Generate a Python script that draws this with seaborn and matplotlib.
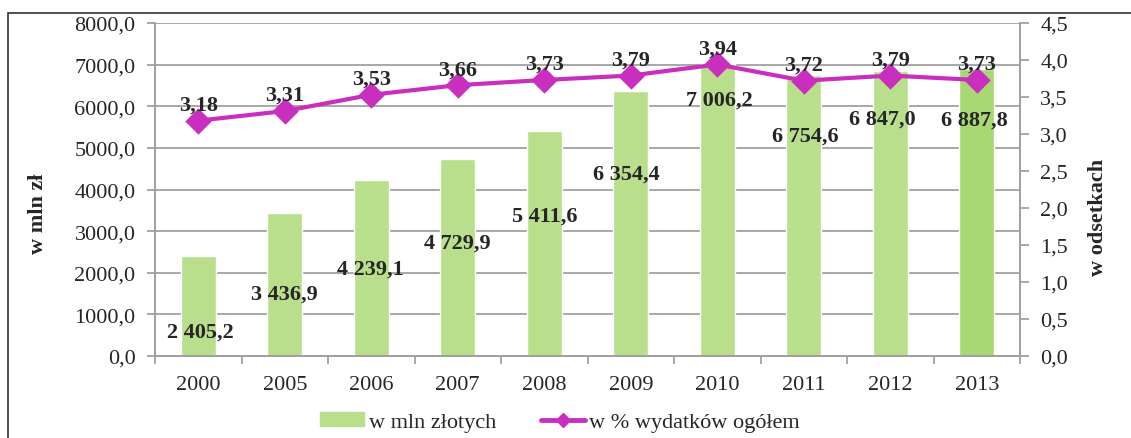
import pandas as pd
import seaborn as sns
import matplotlib.pyplot as plt
from matplotlib.patches import Rectangle, Patch
from matplotlib.lines import Line2D

lata = ["2000", "2005", "2006", "2007", "2008", "2009", "2010", "2011", "2012", "2013"]
mln_zl = [2405.2, 3436.9, 4239.1, 4729.9, 5411.6, 6354.4, 7006.2, 6754.6, 6847.0, 6887.8]
procent = [3.18, 3.31, 3.53, 3.66, 3.73, 3.79, 3.94, 3.72, 3.79, 3.73]

# przesuniecia etykiet slupkow (w pikselach), tak jak w oryginale
przes_x = [2, 0, -1, 0, 0, -4, 2, 2, -8, -2]
przes_y = [-76, -81, -89, -83, -85, -82, -35, -61, -48, -50]

ZIELONY = "#badf8c"
ZIELONY_2013 = "#a8d774"
FIOLET = "#c92fbf"
SZARY = "#a0a0a0"


def fmt(v, dec, tys=True):
    s = f"{v:,.{dec}f}" if tys else f"{v:.{dec}f}"
    return s.replace(",", " ").replace(".", ",")


sns.set_style("white")
plt.rcParams["font.family"] = ["Liberation Serif", "DejaVu Serif"]

df = pd.DataFrame({"rok": lata, "mln": mln_zl, "proc": procent})
kolory = [ZIELONY] * 9 + [ZIELONY_2013]

fig = plt.figure(figsize=(11.31, 4.39), dpi=100)
ax = fig.add_axes([155 / 1131, 1 - 357 / 439, 865 / 1131, 333 / 439])

sns.barplot(data=df, x="rok", y="mln", hue="rok", palette=kolory, legend=False,
            width=0.4, ax=ax, saturation=1)
ax.set_ylim(0, 8000)
ax.set_xlim(-0.5, 9.5)
ax.set_yticks(range(0, 8001, 1000))
ax.set_yticklabels([fmt(v, 1, False) for v in range(0, 8001, 1000)], fontsize=16)
ax.set_xticks(range(10))
ax.set_xticklabels(lata, fontsize=16)
ax.set_xlabel("")
ax.set_ylabel("")
ax.yaxis.grid(True, color=SZARY, lw=1.3)
ax.set_axisbelow(True)
ax.spines["top"].set_visible(False)
for s in ["left", "bottom", "right"]:
    ax.spines[s].set_color(SZARY)
    ax.spines[s].set_linewidth(1.3)
ax.tick_params(axis="y", length=6, width=1.3, color=SZARY, left=True, pad=8)
ax.tick_params(axis="x", length=0, pad=14)
# kreski miedzy kategoriami
ax.set_xticks([i - 0.5 for i in range(11)], minor=True)
ax.tick_params(axis="x", which="minor", length=6, width=1.3, color=SZARY, bottom=True)

for i, v in enumerate(mln_zl):
    ax.annotate(fmt(v, 1), xy=(i, v), xytext=(przes_x[i], przes_y[i]),
                textcoords="offset pixels", ha="center", va="center",
                fontsize=16, fontweight="bold")

ax2 = ax.twinx()
sns.pointplot(data=df, x="rok", y="proc", color=FIOLET, markers="D",
              ax=ax2, linewidth=3, markersize=11)
ax2.set_ylim(0, 4.5)
ax2.set_xlim(-0.5, 9.5)
ax2.set_yticks([x / 2 for x in range(10)])
ax2.set_yticklabels([fmt(x / 2, 1) for x in range(10)], fontsize=16)
ax2.set_ylabel("")
ax2.set_xlabel("")
ax2.spines["top"].set_visible(False)
for s in ["left", "bottom", "right"]:
    ax2.spines[s].set_color(SZARY)
    ax2.spines[s].set_linewidth(1.3)
ax2.tick_params(axis="y", length=6.5, width=1.3, color=SZARY, right=True, pad=8)
for i, v in enumerate(procent):
    ax2.annotate(fmt(v, 2), xy=(i, v), xytext=(0, 16), textcoords="offset pixels",
                 ha="center", va="center", fontsize=16, fontweight="bold")

fig.text(38 / 1131, 1 - 214 / 439, "w mln zł", rotation=90, ha="center",
         va="center", fontsize=16, fontweight="bold")
fig.text(1098 / 1131, 1 - 217 / 439, "w odsetkach", rotation=90, ha="center",
         va="center", fontsize=16, fontweight="bold")

uchwyty = [Patch(color=ZIELONY),
           Line2D([0], [0], color=FIOLET, lw=3.5, marker="D", markersize=7)]
fig.legend(uchwyty, ["w mln złotych", "w % wydatków ogółem"], loc="center",
           bbox_to_anchor=(560 / 1131, 1 - 423 / 439), ncol=2, frameon=False,
           fontsize=16, handlelength=2.0, handleheight=0.6, columnspacing=2.0,
           handletextpad=0.2)

fig.patches.append(Rectangle((8 / 1131, -0.1), 1.2, 1.1 - 14 / 439,
                             transform=fig.transFigure, fill=False,
                             edgecolor="#333333", lw=1.2))

fig.savefig("out.png", dpi=100)
